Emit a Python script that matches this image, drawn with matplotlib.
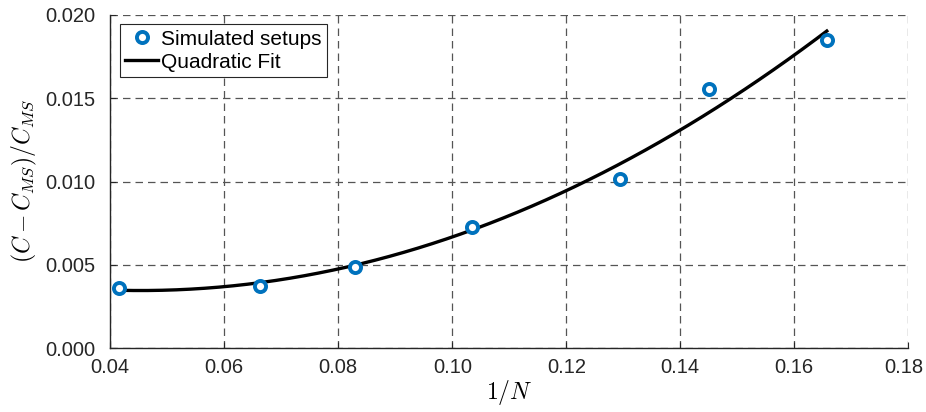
import numpy as np
import matplotlib
matplotlib.use("Agg")
import matplotlib.pyplot as plt
from matplotlib.transforms import ScaledTranslation

plt.rcParams['font.family'] = ['Liberation Sans', 'DejaVu Sans']
plt.rcParams['mathtext.fontset'] = 'cm'

# simulated setups: 1/N and relative deviation from C_MS
inv_n = [0.0416, 0.0663, 0.0829, 0.1035, 0.1294, 0.1450, 0.1657]
rel_dev = [0.00364, 0.00374, 0.00490, 0.00730, 0.01014, 0.01554, 0.01850]

xticks = [0.04, 0.06, 0.08, 0.10, 0.12, 0.14, 0.16, 0.18]
yticks = [0.000, 0.005, 0.010, 0.015, 0.020]

# quadratic fit through the simulated points
coef = np.polyfit(inv_n, rel_dev, 2)
xf = np.linspace(min(inv_n), max(inv_n), 200)
yf = np.polyval(coef, xf)

fig = plt.figure(figsize=(9.26, 4.12), dpi=100)
ax = fig.add_axes([0.1191, 0.1546, 0.8618, 0.809])

ax.plot(inv_n, rel_dev, 'o', ms=8, mfc='white', mec='#0072BD', mew=2.8,
        label='Simulated setups', zorder=3)
ax.plot(xf, yf, '-', color='black', lw=2.4, label='Quadratic Fit', zorder=2)

ax.set_xlim(0.04, 0.18)
ax.set_ylim(0, 0.02)
ax.set_xticks(xticks)
ax.set_yticks(yticks)
ax.set_xticklabels([f'{v:.2f}' for v in xticks])
ax.set_yticklabels([f'{v:.3f}' for v in yticks])
ax.tick_params(direction='in', length=4, labelsize=14.5, colors='#262626')
ax.tick_params(axis='y', pad=11)
ax.tick_params(axis='x', pad=7)

# nudge the last x label inward so it stays on the canvas
last = ax.get_xticklabels()[-1]
last.set_transform(last.get_transform() + ScaledTranslation(-5 / 100, 0, fig.dpi_scale_trans))

ax.grid(True, linestyle=(0, (6, 4)), color='#555555', lw=0.9)
ax.set_axisbelow(True)
for s in ['top', 'right']:
    ax.spines[s].set_visible(False)
for s in ['left', 'bottom']:
    ax.spines[s].set_color('#262626')
    ax.spines[s].set_linewidth(1.0)

ax.set_xlabel(r'$1/N$', fontsize=17, labelpad=1)
ax.set_ylabel(r'$(C-C_{MS})/C_{MS}$', fontsize=17, labelpad=4)

leg = ax.legend(loc='upper left', fontsize=15, fancybox=False, framealpha=1,
                edgecolor='#262626', borderaxespad=0.45, handlelength=1.6,
                handletextpad=0.15, borderpad=0.25, labelspacing=0.2)
leg.get_frame().set_linewidth(0.8)

fig.savefig('out.png', dpi=100)
